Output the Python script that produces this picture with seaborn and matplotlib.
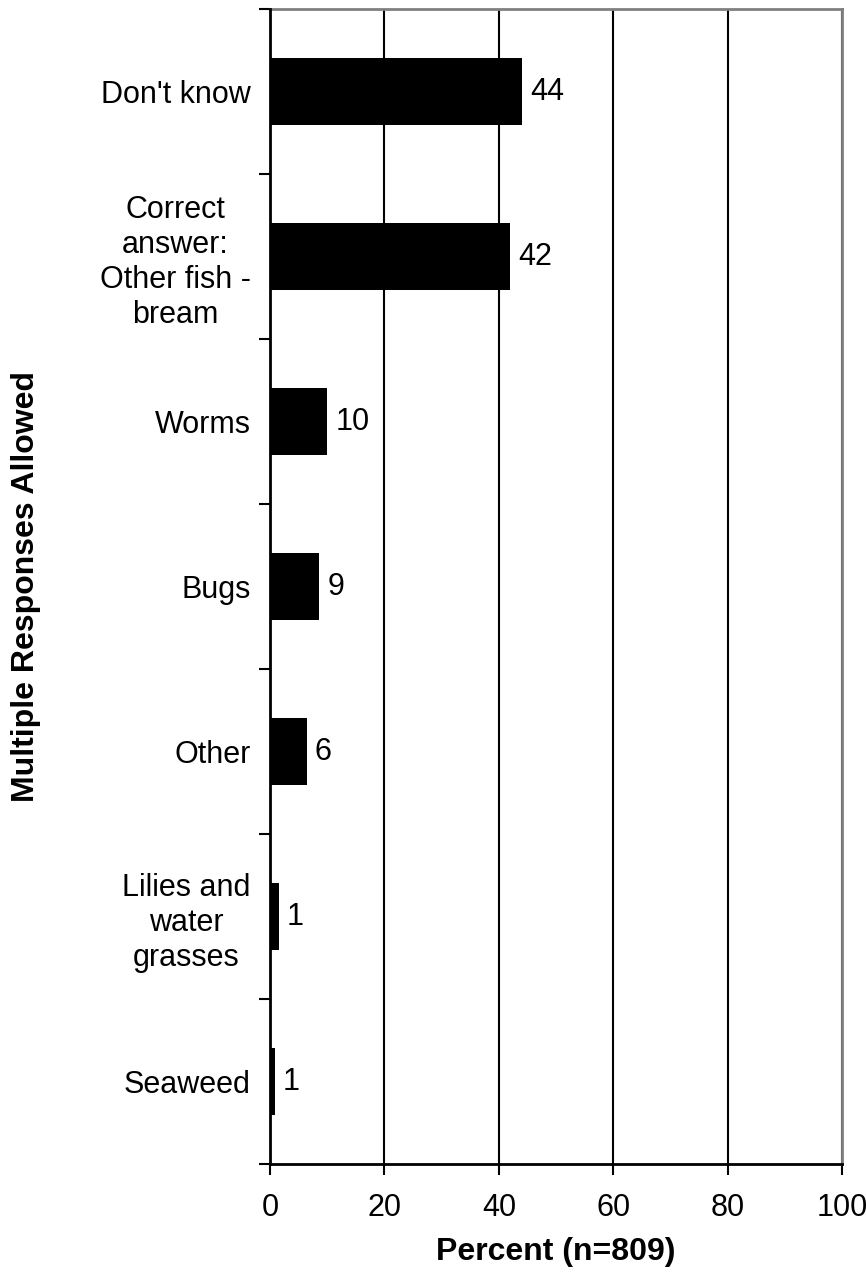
import numpy as np
import pandas as pd
import seaborn as sns
import matplotlib.pyplot as plt

categories = ["Don't know", "Correct\nanswer:\nOther fish -\nbream", "Worms", "Bugs",
              "Other", "Lilies and\nwater\ngrasses", "Seaweed"]
percent = [44.0, 41.9, 10.0, 8.6, 6.4, 1.5, 0.8]
value_labels = ["44", "42", "10", "9", "6", "1", "1"]
x_ticks = [0, 20, 40, 60, 80, 100]

df = pd.DataFrame({"category": categories, "percent": percent})

sns.set_style("white")
plt.rcParams['font.family'] = ['Liberation Sans', 'DejaVu Sans']
plt.rcParams['text.color'] = 'black'
plt.rcParams['axes.labelcolor'] = 'black'
plt.rcParams['xtick.color'] = 'black'
plt.rcParams['ytick.color'] = 'black'

fig = plt.figure(figsize=(8.66, 12.73), dpi=100)
ax = fig.add_axes([0.3118, 0.0856, 0.6605, 0.9073])

sns.barplot(data=df, x="percent", y="category", orient="h", color="black",
            width=0.41, saturation=1, linewidth=0, ax=ax, zorder=3)

ax.set_xlim(0, 100)
ax.set_ylim(6.5, -0.5)
ax.set_xticks(x_ticks)
ax.set_xticklabels([str(t) for t in x_ticks], fontsize=22)
ax.xaxis.grid(True, color="black", linewidth=1.5, zorder=0)
ax.yaxis.grid(False)

ax.set_yticks(range(len(categories)))
ax.set_yticklabels(categories, fontsize=22, multialignment="center", linespacing=1.22)
ax.tick_params(axis="y", which="major", left=False, length=0, pad=14)
ax.set_yticks(np.arange(-0.5, len(categories), 1.0), minor=True)
ax.tick_params(axis="y", which="minor", left=True, length=8, width=1.5,
               color="black", direction="out")
ax.tick_params(axis="x", which="major", bottom=True, length=8, width=1.5,
               color="black", direction="out", pad=13)

for side in ["left", "bottom"]:
    ax.spines[side].set_color("black")
    ax.spines[side].set_linewidth(2)
    ax.spines[side].set_zorder(4)
for side in ["top", "right"]:
    ax.spines[side].set_color("#808080")
    ax.spines[side].set_linewidth(2)

ax.bar_label(ax.containers[0], labels=value_labels, padding=6, fontsize=22)

ax.set_xlabel("Percent (n=809)", fontsize=23, fontweight="bold", labelpad=10)
ax.set_ylabel("Multiple Responses Allowed", fontsize=23, fontweight="bold")
ax.yaxis.set_label_coords(-0.40, 0.5)

fig.savefig("out.png", dpi=100)
